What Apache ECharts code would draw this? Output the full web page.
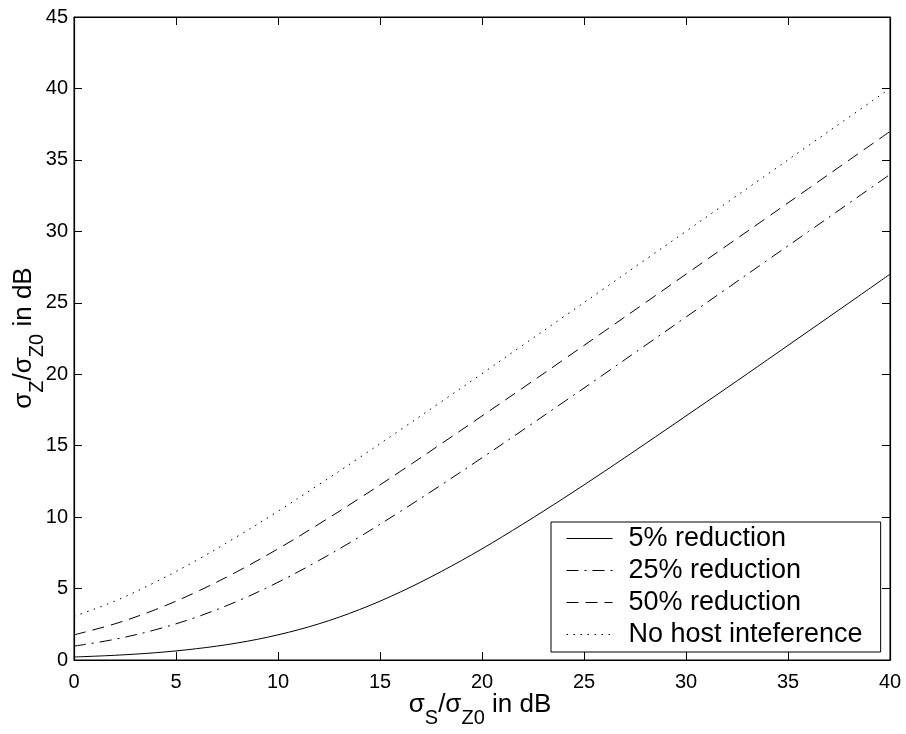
<!DOCTYPE html>
<html>
<head>
<meta charset="utf-8">
<script src="https://cdn.jsdelivr.net/npm/echarts@6/dist/echarts.min.js"></script>
<style>
html,body{margin:0;padding:0;background:#fff;}
#c{width:906px;height:734px;}
</style>
</head>
<body>
<div id="c"></div>
<script>
// sigma_S / sigma_Z0 in dB (x)
var xs = [0,2,4,6,8,10,12,14,16,18,20,22,24,26,28,30,32,34,36,38,40];
// series values (sigma_Z / sigma_Z0 in dB)
var red5  = [0.21,0.33,0.51,0.79,1.19,1.76,2.53,3.53,4.76,6.19,7.78,9.51,11.32,13.20,15.13,17.08,19.04,21.02,23.01,25.00,27.00];
var red25 = [0.97,1.45,2.12,3.00,4.11,5.44,6.96,8.62,10.40,12.25,14.15,16.09,18.05,20.02,22.01,24.00,25.99,27.99,29.98,31.98,33.98];
var red50 = [1.76,2.53,3.53,4.76,6.19,7.78,9.51,11.32,13.20,15.13,17.08,19.04,21.02,23.01,25.00,27.00,29.00,30.99,32.99,34.99,36.99];
var noHost = [3.05,4.12,5.46,6.97,8.64,10.41,12.27,14.17,16.11,18.07,20.04,22.03,24.02,26.01,28.01,30.00,32.00,34.00,36.00,38.00,40.00];
var seriesNames = ['5% reduction','25% reduction','50% reduction','No host inteference'];
var xTicks = {min:0, max:40, interval:5};
var yTicks = {min:0, max:45, interval:5};

var FONT = '"Liberation Sans", Arial, Helvetica, sans-serif';
function pairs(v){ return xs.map(function(x,i){ return [x, v[i]]; }); }

var chart = echarts.init(document.getElementById('c'), null, {renderer:'canvas'});

function mkSeries(name, data, dash){
  return {
    name: name, type: 'line', data: pairs(data),
    symbol: 'none', showSymbol: false, smooth: 0.35,
    lineStyle: {color: '#000', width: 1, type: dash},
    itemStyle: {color: '#000'},
    silent: true, animation: false, z: 3
  };
}

var axisCommon = {
  axisLine: {show: true, onZero: false, lineStyle: {color: '#000', width: 1.2}},
  axisTick: {show: true, inside: true, length: 8, lineStyle: {color: '#000', width: 1}},
  splitLine: {show: false}
};

var mainStyle = {fontSize: 26, fontFamily: FONT, color: '#000', fill: '#000', lineHeight: 46, verticalAlign: 'middle'};
var subStyle  = {fontSize: 20, fontFamily: FONT, color: '#000', fill: '#000', lineHeight: 20, verticalAlign: 'bottom'};

chart.setOption({
  animation: false,
  backgroundColor: '#fff',
  grid: {left: 74, right: 16, top: 17, bottom: 74, containLabel: false, outerBoundsMode: 'none',
         show: true, borderColor: '#000', borderWidth: 1, backgroundColor: 'transparent'},
  xAxis: [
    Object.assign({type: 'value', position: 'bottom', min: xTicks.min, max: xTicks.max, interval: xTicks.interval,
      axisLabel: {fontSize: 20, fontFamily: FONT, color: '#000', margin: 12}}, axisCommon),
    Object.assign({type: 'value', position: 'top', min: xTicks.min, max: xTicks.max, interval: xTicks.interval,
      axisLabel: {show: false}}, axisCommon)
  ],
  yAxis: [
    Object.assign({type: 'value', position: 'left', min: yTicks.min, max: yTicks.max, interval: yTicks.interval,
      axisLabel: {fontSize: 20, fontFamily: FONT, color: '#000', margin: 6}}, axisCommon),
    Object.assign({type: 'value', position: 'right', min: yTicks.min, max: yTicks.max, interval: yTicks.interval,
      axisLabel: {show: false}}, axisCommon)
  ],
  legend: {
    orient: 'vertical', left: 551, top: 522,
    itemWidth: 46, itemHeight: 14, itemGap: 5,
    padding: [3, 18, 4, 15],
    borderColor: '#000', borderWidth: 1, backgroundColor: '#fff', borderRadius: 0,
    itemStyle: {opacity: 0, borderWidth: 0},
    lineStyle: {width: 1, color: '#000'},
    textStyle: {fontSize: 27, fontFamily: FONT, color: '#000', lineHeight: 26, padding: [0, 0, 0, 11]},
    data: seriesNames, selectedMode: false
  },
  series: [
    mkSeries(seriesNames[0], red5, 'solid'),
    mkSeries(seriesNames[1], red25, [12, 6, 2, 6]),
    mkSeries(seriesNames[2], red50, [12, 7]),
    mkSeries(seriesNames[3], noHost, [1.5, 5.5])
  ],
  graphic: [
    {type: 'text', x: 480, y: 705, z: 10, silent: true,
      style: {text: '{m|σ}{s|S}{m|/σ}{s|Z0}{m| in dB}', align: 'center', verticalAlign: 'middle',
        fill: '#000', rich: {m: mainStyle, s: subStyle}}},
    {type: 'text', x: 24, y: 338, rotation: Math.PI / 2, z: 10, silent: true,
      style: {text: '{m|σ}{s|Z}{m|/σ}{s|Z0}{m| in dB}', align: 'center', verticalAlign: 'middle',
        fill: '#000', rich: {m: mainStyle, s: subStyle}}}
  ]
});
</script>
</body>
</html>
